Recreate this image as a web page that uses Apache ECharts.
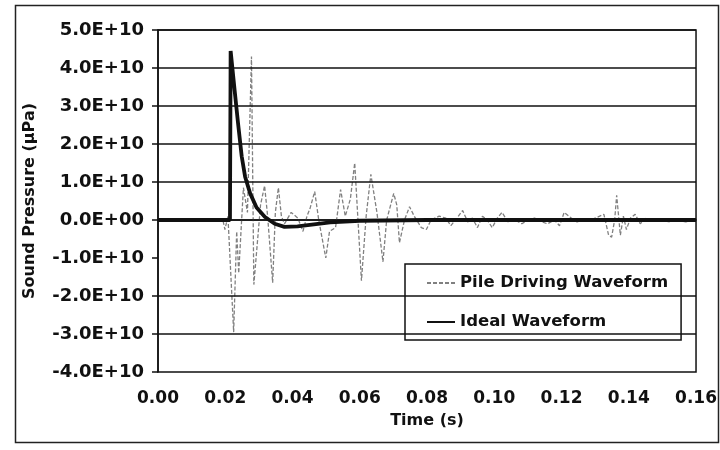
<!DOCTYPE html>
<html>
<head>
<meta charset="utf-8">
<script src="https://cdn.jsdelivr.net/npm/echarts@6/dist/echarts.min.js"></script>
<style>
html,body{margin:0;padding:0;background:#fff;}
#chart{width:720px;height:450px;}
</style>
</head>
<body>
<div id="chart"></div>
<script>
// ---- data (time in s, pressure in µPa) ----
const pileTime = [0, 0.0193, 0.0199, 0.0208, 0.0225, 0.0234, 0.0240, 0.0254, 0.0266, 0.0278, 0.0285,
  0.0305, 0.0317, 0.0326, 0.0341, 0.0349, 0.0358, 0.0367, 0.0376, 0.0396, 0.0416, 0.0431, 0.0443,
  0.0452, 0.0466, 0.0478, 0.0499, 0.0510, 0.0528, 0.0543, 0.0557, 0.0572, 0.0585, 0.0605, 0.0619,
  0.0633, 0.0651, 0.0669, 0.0680, 0.0701, 0.0710, 0.0718, 0.0733, 0.0748, 0.0762, 0.0783, 0.0798,
  0.0812, 0.0836, 0.0856, 0.0871, 0.0889, 0.0906, 0.0921, 0.0935, 0.0950, 0.0965, 0.0979, 0.0994,
  0.1009, 0.1023, 0.1041, 0.1062, 0.1082, 0.1100, 0.1120, 0.1141, 0.1158, 0.1179, 0.1194, 0.1208,
  0.1229, 0.1246, 0.1287, 0.1326, 0.1340, 0.1349, 0.1358, 0.1364, 0.1375, 0.1384, 0.1393, 0.1405,
  0.1419, 0.1434, 0.1452, 0.1472, 0.1493, 0.1522, 0.1540, 0.1569, 0.1595];
const pileValue = [0, 0, -0.25e10, 0.1e10, -2.95e10, -0.3e10, -1.4e10, 0.85e10, 0.2e10, 4.3e10, -1.7e10,
  0.4e10, 0.9e10, 0.1e10, -1.65e10, 0.2e10, 0.85e10, 0.1e10, -0.1e10, 0.2e10, 0.05e10, -0.3e10, 0.1e10,
  0.3e10, 0.75e10, 0, -1.0e10, -0.3e10, -0.2e10, 0.8e10, 0.1e10, 0.55e10, 1.5e10, -1.6e10, 0.1e10,
  1.2e10, 0.2e10, -1.1e10, 0, 0.7e10, 0.4e10, -0.6e10, 0, 0.35e10, 0.1e10, -0.2e10, -0.25e10,
  0, 0.1e10, 0.05e10, -0.15e10, 0.05e10, 0.25e10, -0.05e10, 0.05e10, -0.2e10, 0.1e10, 0, -0.2e10,
  0.05e10, 0.2e10, -0.05e10, 0, -0.1e10, 0, 0.05e10, -0.05e10, -0.1e10, 0, -0.15e10, 0.2e10,
  0.05e10, -0.05e10, 0, 0.15e10, -0.4e10, -0.45e10, 0, 0.65e10, -0.4e10, 0.1e10, -0.25e10, 0.05e10,
  0.15e10, -0.1e10, 0.05e10, 0, 0, -0.05e10, 0, -0.05e10, 0];

const idealTime = [0, 0.0214, 0.0216, 0.0228, 0.0238, 0.0249, 0.0259, 0.0274, 0.0293, 0.0318,
  0.0347, 0.0376, 0.0415, 0.0512, 0.0600, 0.0800, 0.1600];
const idealValue = [0, 0, 4.45e10, 3.4e10, 2.55e10, 1.67e10, 1.14e10, 0.7e10, 0.33e10, 0.08e10,
  -0.1e10, -0.18e10, -0.17e10, -0.06e10, -0.02e10, 0, 0];

const gridLineValues = [5e10, 4e10, 3e10, 2e10, 1e10, 0, -2e10, -3e10];

const seriesNames = ['Pile Driving Waveform', 'Ideal Waveform'];
const xAxisTitle = 'Time (s)';
const yAxisTitle = 'Sound Pressure (µPa)';

// ---- chart ----
const zip = (a, b) => a.map((v, i) => [v, b[i]]);
const FONT = 'DejaVu Sans';
const chart = echarts.init(document.getElementById('chart'), null, {renderer: 'canvas'});

chart.setOption({
  animation: false,
  backgroundColor: '#fff',
  graphic: [{
    type: 'rect', left: 13, top: 3, z: -10,
    shape: {width: 703, height: 437},
    style: {fill: 'none', stroke: '#222', lineWidth: 1.5}
  }],
  grid: {left: 158, right: 15, top: 30, bottom: 78, show: true, borderColor: '#111', borderWidth: 1.5,
    backgroundColor: 'transparent'},
  legend: {
    orient: 'vertical', left: 405, top: 264,
    data: seriesNames,
    backgroundColor: '#fff', borderColor: '#111', borderWidth: 1.5,
    padding: [9, 13, 8, 21],
    itemWidth: 28, itemHeight: 14, itemGap: 19,
    itemStyle: {opacity: 0},
    textStyle: {fontFamily: FONT, fontWeight: 'bold', fontSize: 16.5, color: '#111', lineHeight: 20}
  },
  xAxis: {
    type: 'value', min: 0, max: 0.16, interval: 0.02,
    name: xAxisTitle, nameLocation: 'middle', nameGap: 41,
    nameTextStyle: {fontFamily: FONT, fontWeight: 'bold', fontSize: 16, color: '#111'},
    axisLine: {show: true, lineStyle: {color: '#111', width: 1.5}},
    axisTick: {show: false},
    splitLine: {show: false},
    axisLabel: {fontFamily: FONT, fontWeight: 'bold', fontSize: 17, color: '#111', margin: 18,
      formatter: v => v.toFixed(2)}
  },
  yAxis: {
    type: 'value', min: -4e10, max: 5e10, interval: 1e10,
    name: yAxisTitle, nameLocation: 'middle', nameGap: 120, nameRotate: 90,
    nameTextStyle: {fontFamily: FONT, fontWeight: 'bold', fontSize: 16, color: '#111'},
    axisLine: {show: true, lineStyle: {color: '#111', width: 1.5}},
    axisTick: {show: true, inside: false, length: 6, lineStyle: {color: '#111', width: 1.5}},
    splitLine: {show: false},
    axisLabel: {fontFamily: FONT, fontWeight: 'bold', fontSize: 18, color: '#111', margin: 14,
      formatter: v => v === 0 ? '0.0E+00' : (v / 1e10).toFixed(1) + 'E+10'}
  },
  series: [
    {
      name: 'gridlines', type: 'line', data: [], silent: true, z: 1,
      markLine: {
        silent: true, symbol: 'none', label: {show: false},
        lineStyle: {color: '#111', width: 1.5, type: 'solid'},
        emphasis: {disabled: true},
        data: gridLineValues.map(v => ({yAxis: v}))
      }
    },
    {
      name: seriesNames[0], type: 'line', data: zip(pileTime, pileValue),
      symbol: 'none', z: 3,
      lineStyle: {color: '#808080', width: 1.3, type: [4, 2]},
      itemStyle: {color: '#808080'}
    },
    {
      name: seriesNames[1], type: 'line', data: zip(idealTime, idealValue),
      symbol: 'none', z: 4,
      lineStyle: {color: '#111', width: 3.8},
      itemStyle: {color: '#111'}
    }
  ]
});
</script>
</body>
</html>
